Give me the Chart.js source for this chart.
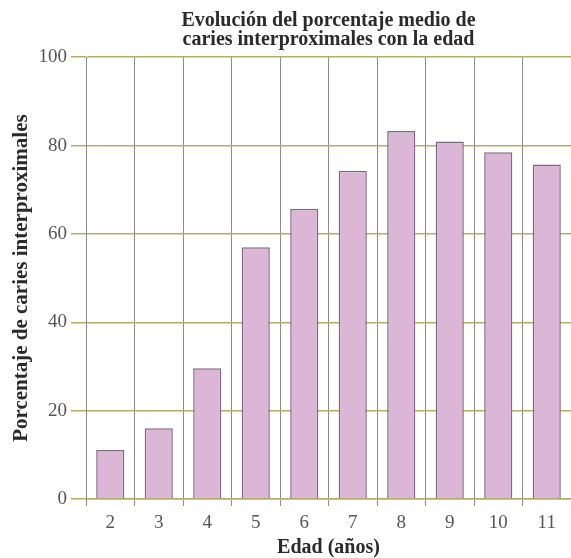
<!DOCTYPE html>
<html>
<head>
<meta charset="utf-8">
<script src="https://cdn.jsdelivr.net/npm/chart.js@4"></script>
<style>
html,body{margin:0;padding:0;background:#fff;overflow:hidden;}
#wrap{width:571px;height:558px;}
</style>
</head>
<body>
<div id="wrap"><canvas id="c" width="571" height="558"></canvas></div>
<script>
const categories = ['2','3','4','5','6','7','8','9','10','11'];
const values = [11.1, 16.0, 29.6, 57.0, 65.7, 74.3, 83.3, 80.9, 78.5, 75.7];
const yTicks = [0, 20, 40, 60, 80, 100];
const titleLines = ['Evolución del porcentaje medio de', 'caries interproximales con la edad'];
const xTitle = 'Edad (años)';
const yTitle = 'Porcentaje de caries interproximales';

const serif = "'Liberation Serif', 'DejaVu Serif', serif";

new Chart(document.getElementById('c'), {
  type: 'bar',
  data: {
    labels: categories,
    datasets: [{
      data: values,
      backgroundColor: '#dbb6d6',
      borderColor: '#7e6a80',
      borderWidth: 1.5,
      categoryPercentage: 1,
      barPercentage: 0.58
    }]
  },
  options: {
    responsive: false,
    animation: false,
    layout: { padding: { top: 0, right: 0, bottom: 0, left: 0 } },
    plugins: {
      legend: { display: false },
      tooltip: { enabled: false },
      title: {
        display: true,
        text: titleLines,
        fullSize: false,
        color: '#2a2a2a',
        font: { family: serif, size: 20, weight: 'bold', lineHeight: 0.93 },
        padding: { top: 12, bottom: 8 }
      }
    },
    scales: {
      x: {
        grid: { display: true, offset: true, color: '#8c8c8c', lineWidth: 1, tickLength: 7, drawOnChartArea: true },
        border: { display: true, color: '#b3ad6a', width: 1.5 },
        ticks: { color: '#555', font: { family: serif, size: 19 }, padding: 6, maxRotation: 0 },
        title: {
          display: true, text: xTitle, color: '#2a2a2a',
          font: { family: serif, size: 20, weight: 'bold', lineHeight: 1 },
          padding: { top: 0, bottom: 0 }
        },
        afterFit: (s) => { s.height = 59; }
      },
      y: {
        min: 0, max: 100,
        afterBuildTicks: (s) => { s.ticks = yTicks.map(v => ({ value: v })); },
        grid: { color: '#b3ad6a', lineWidth: 1.5, tickLength: 15 },
        border: { display: true, color: '#8c8c8c', width: 1 },
        ticks: { color: '#555', font: { family: serif, size: 19 }, padding: 4 },
        title: {
          display: true, text: yTitle, color: '#2a2a2a',
          font: { family: serif, size: 21, weight: 'bold', lineHeight: 1 },
          padding: { top: 11.5, bottom: 0 }
        },
        afterFit: (s) => { s.width = 86; }
      }
    }
  }
});
</script>
</body>
</html>
